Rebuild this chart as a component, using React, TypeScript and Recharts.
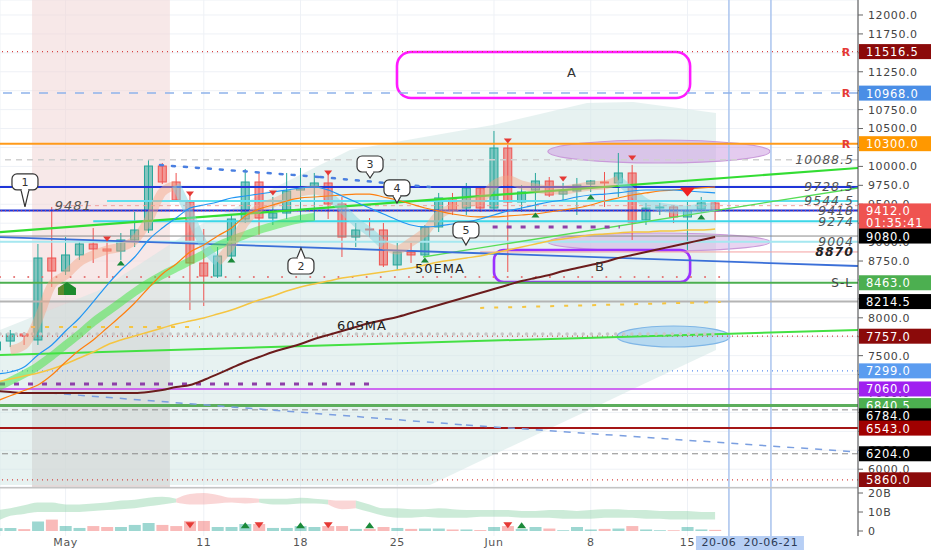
import React from 'react';
import {
  ComposedChart, Bar, Line, Area, XAxis, YAxis, CartesianGrid,
  ReferenceLine, ReferenceArea, ReferenceDot, Cell,
} from 'recharts';

// ================= DATA =================
const dayIndex = [-5,-4,-3,-2,-1,0,1,2,3,4,5,6,7,8,9,10,11,12,13,14,15,16,17,18,19,20,21,22,23,24,25,26,27,28,29,30,31,32,33,34,35,36,37,38,39,40,41,42,43,44,45,46,47];
const opens = [7575,7693,7786,7707,8790,8618,8830,8975,8909,8882,9028,9160,10005,9794,9530,8724,8552,8816,9305,9794,9318,9384,9688,9728,9781,9503,9067,9173,9160,8698,8869,8830,9200,9556,9450,9715,9450,10243,9530,9688,9807,9635,9675,9767,9794,9781,9913,9292,9450,9464,9332,9437,9517];
const highs = [7707,7839,7812,8975,9464,9067,9001,9186,9028,9120,9398,10085,10045,9913,9622,9173,8935,9371,9966,9913,9596,9913,9979,9913,9900,9596,9252,9318,9252,8988,8988,9226,9649,9649,9781,9728,10468,10283,9754,9913,9860,9781,9847,9820,9926,10177,10019,9517,9517,9490,9530,9596,9556];
const lows = [7495,7614,7641,7641,8407,8565,8764,8724,8526,8764,8935,9120,9767,9530,8103,8156,8526,8790,9252,9094,9226,9305,9279,9292,9305,8803,8935,9067,8671,8632,8724,8803,9133,9358,9358,9398,9424,8605,9398,9424,9596,9530,9358,9662,9464,9596,9028,9226,9358,9252,8896,9384,9265];
const closes = [7680,7786,7760,8790,8618,8830,8975,8909,8882,9028,9160,10005,9794,9556,8724,8552,8816,9305,9794,9318,9384,9675,9728,9781,9503,9067,9160,9160,8698,8869,8830,9200,9583,9424,9715,9450,10243,9530,9662,9807,9622,9675,9754,9807,9781,9913,9265,9450,9464,9332,9411,9517,9412];
const maBlue = [7257,7284,7350,7509,7641,7826,7997,8209,8433,8631,8803,9028,9186,9318,9450,9490,9530,9583,9609,9635,9662,9688,9715,9728,9688,9609,9530,9450,9371,9292,9226,9200,9213,9239,9265,9305,9358,9411,9450,9490,9530,9556,9596,9622,9635,9649,9675,9688,9688,9688,9675,9662,9649];
const maOrange = [6900,6970,7040,7112,7244,7416,7575,7707,7865,8024,8196,8394,8579,8711,8869,8962,9081,9186,9345,9437,9490,9543,9583,9596,9609,9622,9635,9635,9596,9556,9503,9450,9411,9371,9345,9332,9332,9345,9358,9371,9398,9424,9450,9490,9543,9583,9622,9649,9675,9688,9701,9715,9728];
const maGold = [7152,7191,7231,7271,7324,7390,7469,7548,7641,7707,7760,7812,7865,7918,7958,7997,8050,8103,8169,8235,8288,8354,8407,8447,8486,8526,8552,8579,8605,8632,8658,8698,8737,8764,8790,8816,8856,8896,8935,8975,9015,9041,9067,9094,9107,9120,9133,9133,9147,9147,9160,9160,9173];
const maBrown = [7033,7020,7007,7007,7007,7007,7007,7007,7007,7007,7007,7020,7046,7086,7112,7178,7257,7337,7416,7482,7548,7601,7654,7720,7773,7826,7879,7931,7971,8011,8063,8116,8169,8222,8275,8328,8380,8433,8486,8526,8565,8618,8658,8698,8737,8790,8830,8869,8909,8949,8988,9028,9067];
const greenRibbon = [7073,7165,7257,7363,7495,7641,7786,7944,8077,8209,8341,8460,8565,8658,8750,8843,8948,9028,9094,9160,9213,9265,9305,9332,null,null,null,null,null,null,null,null,null,null,null,null,null,null,null,null,null,null,null,null,null,null,null,null,null,null,null,null,null];
const bandUp = [null,7575,7641,7971,8433,8565,8737,8830,8896,8935,9028,9292,9662,9754,null,null,8737,8962,9265,9450,9517,9596,9662,9688,9622,null,null,null,8962,8896,9001,9133,9358,9450,9517,9556,9754,9820,9754,9715,9688,9688,9715,9741,9754,9820,null,null,null,null,null,null,null];
const bandDown = [null,null,null,null,null,null,null,null,null,null,null,null,null,9754,9358,8962,8737,null,null,null,null,null,null,null,9622,9450,9265,9133,8962,null,null,null,null,null,null,null,null,null,null,null,null,null,null,null,null,9820,9662,9517,9464,9437,9424,9450,9464];
const volumes = [1.5,1.6,1.0,5.0,6.0,2.6,1.6,2.6,2.1,2.1,3.2,4.2,3.2,2.6,5.3,5.3,2.1,2.1,3.7,3.7,1.6,1.6,2.6,2.1,2.6,2.6,1.1,1.1,2.1,1.6,1.1,1.3,1.3,0.8,0.8,0.5,2.1,2.6,1.1,2.1,1.3,0.4,2.1,0.8,1.1,1.3,2.6,0.8,0.4,0.4,2.1,0.8,0.6];
const volBandLow = [5,8,9,10,10,10,10,10.5,11,11.5,12,13,14,15,14,14,14.5,15,14.5,15,14,14,14.5,14.5,14,11.5,12,10,8,7,7,7.5,7,7,7,7.5,7.5,7.5,7,7,7,6.5,6.5,6.5,7,7,7,6.5,6.5,6,6,6,6];
const volBandHigh = [11,12,13.5,15,15,14,14,14.5,15,16,16.5,17.5,18,17,19.5,20,19,17.5,17.5,17,17,17,17.5,17,16.5,16,16,14,12,12,11.5,11.5,12,11.5,11,11,11,11,10.5,10.5,11,11,10.5,11,11.5,11.5,11,11,10.5,10.5,10.5,10,10];
const volBandColor = ['g','g','g','g','g','g','g','g','g','g','g','g','g','r','r','r','r','r','r','g','g','g','g','g','r','r','g','g','g','g','g','g','g','g','g','g','g','g','g','g','g','g','g','g','g','g','g','g','g','g','g','g','g'];

const dateTicks = [0, 10, 17, 24, 31, 38, 45, 48, 51.04];
const dateTickLabels = ['May', '11', '18', '25', 'Jun', '8', '15', '20-06', '20-06-21'];
const priceTicks = [6000,6250,6500,6750,7000,7250,7500,7750,8000,8250,8500,8750,9000,9250,9500,9750,10000,10250,10500,10750,11000,11250,11500,11750,12000];
const volumeTicks = [0, 10, 20];
const volumeTickLabels = ['0', '10B', '20B'];

// regression cloud
const cloudT = [-4.747, 2.49, 9.72, 15.51, 20.58, 26.37, 30.92, 37.73, 41.06, 47.06];
const cloudTop = [7839, 8367, 9226, 9754, 10217, 10402, 10547, 10838, 10851, 10705];
const cloudBottom = [5791, 5791, 5791, 5791, 5791, 5791, 6188, 6769, 7059, 7575];

// horizontal levels
const levelPrices = [11516.5, 10968, 10300, 10088.5, 9728.5, 9544.5, 9481, 9418, 9412, 9274, 9080, 9004, 8870, 8463, 8214.5, 7757, 7299, 7060, 6840.5, 6784, 6543, 6204, 5860];
// axis tags
const tagPrices = [11516.5, 10968, 10300, 9412, 9412, 9080, 8463, 8214.5, 7757, 7299, 7060, 6840.5, 6784, 6543, 6204, 5860];
const tagTexts = ['11516.5', '10968.0', '10300.0', '9412.0', '01:35:41', '9080.0', '8463.0', '8214.5', '7757.0', '7299.0', '7060.0', '6840.5', '6784.0', '6543.0', '6204.0', '5860.0'];
// in-chart level notes
const notePrices = [10088.5, 9728.5, 9544.5, 9418, 9274, 9004, 8870];
const noteTexts = ['10088.5', '9728.5', '9544.5', '9418', '9274', '9004', '8870'];
const resistancePrices = [11516.5, 10968, 10300];
const stopLossPrice = 8463;
const leftNotePrice = 9481;
const leftNoteT = 0.55;

// trend lines [t1, p1, t2, p2]
const trendLines = [
  [-4.747, 9133, 57.34, 9979],
  [-4.747, 7509, 57.34, 7839],
  [25.86, 8803, 57.34, 9715],
  [-4.747, 9067, 57.34, 8684],
  [-1.13, 7007, 28.97, 6584],
  [28.97, 6584, 57.34, 6227],
  [6.83, 10018, 18.41, 9860],
  [18.41, 9860, 26.37, 9728],
  [-4.747, 7125, 22.4, 7125],
  [30.9, 9200, 40.1, 9200],
  [-4.747, 8539, 47.4, 8539],
  [-2.5, 7878, 9.72, 7878],
  [30.0, 8130, 47.4, 8209],
  [-4.747, 7786, 47.4, 7786],
];

// callouts
const calloutTexts = ['1', '2', '3', '4', '5'];
const calloutT = [-2.94, 17.03, 22.03, 23.98, 28.97];
const calloutP = [9464, 8922, 9847, 9517, 8962];

// signal markers
const sellT = [3, 9, 15, 19, 32, 36, 41];
const sellP = [9041, 9635, 9649, 9913, 10336, 9834, 10111];
const bigSellT = 45;
const bigSellP = 9662;
const buyT = [4, 12, 26, 34, 38, 46];
const buyP = [8724, 8764, 8764, 9358, 9596, 9332];
const houseT = 0.1;
const houseP = 8380;
const volSellT = [9, 14, 19, 32];
const volBuyT = [13, 17, 22, 33];
const volMarkerLevel = 3;

// zones
const shadeT = [-2.43, 7.55];
const shadeLowerTop = 8235;
const ellipseZones = [
  [34.9, 50.97, 10045, 10349],
  [34.9, 50.97, 8882, 9120],
  [39.9, 48.07, 7614, 7892],
];
const boxA = [23.98, 45.19, 10904, 11511];
const boxB = [31.0, 45.19, 8473, 8896];
const boxATextAt = [36.64, 11247];
const boxBTextAt = [38.67, 8684];
const emaText = { t: 27.09, p: 8658, text: '50EMA' };
const smaText = { t: 21.45, p: 7905, text: '60SMA' };
const markerLinesT = [48.0, 51.04];

// ================= BUILD =================
const T_MIN = -4.747;
const T_MAX = 57.34;
const P_MIN = 5765;
const P_MAX = 12198;
const V_MIN = -2.63;
const V_MAX = 23.16;
const FONT = 'DejaVu Sans';

const rows = dayIndex.map((t, i) => ({
  t,
  o: opens[i], h: highs[i], l: lows[i], c: closes[i],
  range: [lows[i], highs[i]],
  maBlue: maBlue[i], maOrange: maOrange[i], maGold: maGold[i], maBrown: maBrown[i],
  ribbon: greenRibbon[i], bandUp: bandUp[i], bandDown: bandDown[i],
  vol: volumes[i],
  up: closes[i] >= opens[i],
}));

const cloudRows = cloudT.map((t, i) => ({ t, range: [cloudBottom[i], cloudTop[i]] }));

type Seg = { color: string; pts: { t: number; range: number[] }[] };
const volSegs: Seg[] = [];
dayIndex.forEach((t, i) => {
  const pt = { t, range: [volBandLow[i], volBandHigh[i]] };
  const last = volSegs[volSegs.length - 1];
  if (last && last.color === volBandColor[i]) last.pts.push(pt);
  else {
    if (last) last.pts.push(pt);
    volSegs.push({ color: volBandColor[i], pts: [pt] });
  }
});

// ================= STYLES =================
const LEVEL_STYLE: any[] = [
  { stroke: '#d84343', w: 1.3, dash: '1 4' },
  { stroke: '#8fb2ea', w: 1.5, dash: '9 9' },
  { stroke: '#ff9a1a', w: 2 },
  { stroke: '#d0d0d0', w: 1.5, dash: '6 5' },
  { stroke: '#1f35d8', w: 2 },
  { stroke: '#5fe0ee', w: 2, from: 3.0 },
  { stroke: '#f0a0a0', w: 1, dash: '4 4', from: -0.77 },
  { stroke: '#1f35d8', w: 2 },
  { stroke: '#ef5350', w: 1, dash: '1 3' },
  { stroke: '#3dd7e8', w: 2, from: 2.0 },
  { stroke: '#8a8a8a', w: 1 },
  { stroke: '#a6e8f0', w: 2 },
  { stroke: '#f4a0a0', w: 1, from: 30 },
  { stroke: '#4caf50', w: 2 },
  { stroke: '#b4b4b4', w: 2 },
  { stroke: '#d84343', w: 1.3, dash: '1 4' },
  { stroke: '#5b8def', w: 1.3, dash: '1 4' },
  { stroke: '#c63cf0', w: 1.5 },
  { stroke: '#5cae5c', w: 3 },
  { stroke: '#8a8a8a', w: 1, dash: '6 4' },
  { stroke: '#a51616', w: 2 },
  { stroke: '#8a8a8a', w: 1, dash: '6 4' },
  { stroke: '#d84343', w: 1.3, dash: '1 4' },
];
const TAG_STYLE: any[] = [
  { bg: '#8b0a0a', dy: 0 }, { bg: '#4a8ee6', dy: 0 }, { bg: '#ff9800', dy: 0 },
  { bg: '#ef5350', dy: 0 }, { bg: '#ef5350', dy: 12 }, { bg: '#000', dy: 0 },
  { bg: '#4caf50', dy: 0 }, { bg: '#000', dy: 0 }, { bg: '#8b0a0a', dy: 0 },
  { bg: '#5b9cf0', dy: 0 }, { bg: '#a020f0', dy: 0 }, { bg: '#4caf50', dy: 0 },
  { bg: '#000', dy: 6 }, { bg: '#a00000', dy: 0 }, { bg: '#000', dy: 0 }, { bg: '#8b0a0a', dy: 0 },
];
const TREND_STYLE: any[] = [
  { stroke: '#33dd33', w: 2.2 },
  { stroke: '#44e044', w: 2 },
  { stroke: '#55dd55', w: 1.3 },
  { stroke: '#3a6fd8', w: 1.8 },
  { stroke: '#7b9fe0', w: 1.5, dash: '7 7' },
  { stroke: '#7b9fe0', w: 1.5, dash: '7 7' },
  { stroke: '#4a7fe0', w: 2.5, dash: '3 9', cap: 'round' },
  { stroke: '#4a7fe0', w: 2.5, dash: '3 9', cap: 'round' },
  { stroke: '#8e3fa8', w: 3, dash: '5 9' },
  { stroke: '#8e3fa8', w: 3, dash: '5 9' },
  { stroke: '#e57373', w: 2, dash: '0.1 14', cap: 'round' },
  { stroke: '#f5c542', w: 2, dash: '4 10' },
  { stroke: '#f5c542', w: 2, dash: '4 10' },
  { stroke: '#c8c8c8', w: 3.5, dash: '0.1 8', cap: 'round' },
];
const CALLOUT_STEM = [{ stem: 17, below: false }, { stem: 10, below: true }, { stem: 6, below: false }, { stem: 7, below: false }, { stem: 7, below: false }];
const BODY_W = 8;

// ================= SHAPES =================
function Candle(props: any) {
  const { x, y, width, height, payload } = props;
  if (!payload || !isFinite(y) || !isFinite(height)) return null;
  const { o, h, l, c } = payload;
  const yTop = Math.min(y, y + height);
  const H = Math.abs(height);
  const k = H / Math.max(h - l, 1e-6);
  const py = (p: number) => yTop + (h - p) * k;
  const up = c >= o;
  const stroke = up ? '#26a69a' : '#ef5350';
  const fill = up ? 'rgba(38,166,154,0.55)' : 'rgba(239,83,80,0.55)';
  const cx = x + width / 2;
  const top = py(Math.max(o, c));
  const bot = py(Math.min(o, c));
  return (
    <g>
      <line x1={cx} x2={cx} y1={yTop} y2={yTop + H} stroke={stroke} strokeWidth={1} />
      <rect x={cx - BODY_W / 2} y={top} width={BODY_W} height={Math.max(bot - top, 1)} fill={fill} stroke={stroke} strokeWidth={1} />
    </g>
  );
}

const tagShape = (text: string, bg: string, dy: number) => (p: any) => (
  <g>
    <rect x={p.cx + 1} y={p.cy + dy - 7.5} width={72} height={15} fill={bg} />
    <text x={p.cx + 8} y={p.cy + dy + 4.5} fill="#fff" fontSize={11.5} fontFamily={FONT} letterSpacing={0.7}>{text}</text>
  </g>
);

const noteShape = (text: string, bold: boolean) => (p: any) => (
  <text x={p.cx - 4} y={p.cy + 4.5} textAnchor="end" fill={bold ? '#222' : '#555'} fontSize={12.5}
    fontStyle="italic" fontWeight={bold ? 'bold' : 'normal'} fontFamily={FONT} letterSpacing={1}>{text}</text>
);

const textShape = (text: string, size: number, fill: string, anchor: string = 'middle', italic = false) => (p: any) => (
  <text x={p.cx} y={p.cy + size * 0.36} textAnchor={anchor} fill={fill} fontSize={size} fontFamily={FONT}
    fontStyle={italic ? 'italic' : 'normal'} letterSpacing={1}>{text}</text>
);

const bubbleShape = (text: string, stem: number, below: boolean) => (p: any) => {
  const { cx, cy } = p;
  const w = 26, h = 16;
  const bx = cx - w / 2;
  const by = below ? cy + stem : cy - stem - h;
  const baseY = below ? by : by + h;
  return (
    <g>
      <rect x={bx} y={by} width={w} height={h} rx={5} fill="#fff" stroke="#333" strokeWidth={1.2} />
      <path d={`M${cx - 4},${baseY} L${cx},${cy} L${cx + 4},${baseY}`} fill="#fff" stroke="#333" strokeWidth={1.2} />
      <line x1={cx - 3.2} x2={cx + 3.2} y1={baseY} y2={baseY} stroke="#fff" strokeWidth={2} />
      <text x={cx} y={by + h / 2 + 4} textAnchor="middle" fontSize={11} fill="#333" fontFamily={FONT}>{text}</text>
    </g>
  );
};

const triShape = (down: boolean, color: string, w: number, h: number) => (p: any) => {
  const { cx, cy } = p;
  const d = down
    ? `M${cx - w / 2},${cy - h / 2} L${cx + w / 2},${cy - h / 2} L${cx},${cy + h / 2} Z`
    : `M${cx - w / 2},${cy + h / 2} L${cx + w / 2},${cy + h / 2} L${cx},${cy - h / 2} Z`;
  return <path d={d} fill={color} />;
};

const houseShape = (p: any) => {
  const { cx, cy } = p;
  return (
    <g>
      <path d={`M${cx - 9},${cy + 6} L${cx - 9},${cy - 1} L${cx},${cy - 7} L${cx + 9},${cy - 1} L${cx + 9},${cy + 6} Z`} fill="#1e8a2e" />
      <path d={`M${cx - 9},${cy + 6} L${cx - 9},${cy - 1} L${cx - 3},${cy - 5} L${cx - 3},${cy + 6} Z`} fill="#7a8a2e" opacity={0.7} />
    </g>
  );
};

const ellipseShape = (fill: string, stroke: string) => (p: any) => {
  const { x, y, width, height } = p;
  return <ellipse cx={x + width / 2} cy={y + height / 2} rx={Math.abs(width) / 2} ry={Math.abs(height) / 2} fill={fill} stroke={stroke} strokeWidth={1.2} />;
};

const boxShape = (stroke: string, rx: number) => (p: any) => {
  const { x, y, width, height } = p;
  return <rect x={x} y={Math.min(y, y + height)} width={width} height={Math.abs(height)} rx={rx} fill="none" stroke={stroke} strokeWidth={2.6} />;
};

const DateTick = (p: any) => {
  const { x, y, index } = p;
  const label = dateTickLabels[index];
  const hl = index >= 7;
  const dx = index === 7 ? -10 : 0;
  return <text x={x + dx} y={y + 10} textAnchor="middle" fontSize={11} fill={hl ? '#2b3a55' : '#555'} fontFamily={FONT} letterSpacing={0.6}>{label}</text>;
};

const DateHighlight = (p: any) => {
  const { cx } = p;
  return <rect x={cx - 75} y={49} width={108} height={14} fill="#b7cff5" />;
};

const lineProps = { dot: false, activeDot: false, isAnimationActive: false, type: 'monotone' as const };

// ================= APP =================
export default function App() {
  return (
    <div style={{ position: 'absolute', left: 0, top: 0, width: 932, height: 550, background: '#fff', overflow: 'hidden' }}>
      <div style={{ position: 'absolute', left: 0, top: 0 }}>
        <ComposedChart width={932} height={487} data={rows} margin={{ top: 0, right: 0, bottom: 0, left: 0 }}>
          <CartesianGrid stroke="#eef1f6" strokeWidth={1} />
          <XAxis dataKey="t" type="number" domain={[T_MIN, T_MAX]} allowDataOverflow hide ticks={dateTicks.slice(0, 7)} />
          <YAxis type="number" orientation="right" width={74} domain={[P_MIN, P_MAX]} allowDataOverflow
            ticks={priceTicks} interval={0} tickFormatter={(v: number) => v.toFixed(1)}
            tick={{ fill: '#444', fontSize: 11, fontFamily: FONT, letterSpacing: 0.6 }}
            tickSize={5} tickMargin={5} axisLine={{ stroke: '#444' }} tickLine={{ stroke: '#666' }} />

          <ReferenceArea x1={shadeT[0]} x2={shadeT[1]} y1={P_MIN} y2={P_MAX} fill="#f0d6d6" fillOpacity={0.55} stroke="none" ifOverflow="hidden" />
          <ReferenceArea x1={shadeT[0]} x2={shadeT[1]} y1={P_MIN} y2={shadeLowerTop} fill="#b9b9b9" fillOpacity={0.3} stroke="none" ifOverflow="hidden" />
          <Area data={cloudRows} dataKey="range" type="linear" fill="#cfe6e3" fillOpacity={0.5} stroke="none" isAnimationActive={false} dot={false} activeDot={false} />

          {markerLinesT.map((t, i) => (
            <ReferenceLine key={'ml' + i} x={t} stroke="#aac4ee" strokeWidth={1.5} />
          ))}

          {levelPrices.map((p, i) => {
            const s = LEVEL_STYLE[i];
            if (s.from !== undefined) {
              return <ReferenceLine key={'lv' + i} segment={[{ x: s.from, y: p }, { x: T_MAX, y: p }]} stroke={s.stroke} strokeWidth={s.w} strokeDasharray={s.dash} ifOverflow="hidden" />;
            }
            return <ReferenceLine key={'lv' + i} y={p} stroke={s.stroke} strokeWidth={s.w} strokeDasharray={s.dash} />;
          })}

          {trendLines.map((tl, i) => {
            const s = TREND_STYLE[i];
            return <ReferenceLine key={'tl' + i} segment={[{ x: tl[0], y: tl[1] }, { x: tl[2], y: tl[3] }]} stroke={s.stroke}
              strokeWidth={s.w} strokeDasharray={s.dash} strokeLinecap={s.cap || 'butt'} ifOverflow="hidden" />;
          })}

          <Line dataKey="ribbon" stroke="#3ee63e" strokeWidth={8} strokeOpacity={0.5} {...lineProps} />
          <Line dataKey="bandUp" stroke="#f4a582" strokeWidth={9} strokeOpacity={0.45} {...lineProps} />
          <Line dataKey="bandDown" stroke="#86d6df" strokeWidth={9} strokeOpacity={0.5} {...lineProps} />
          <Line dataKey="maBrown" stroke="#6b1c1c" strokeWidth={2} {...lineProps} />
          <Line dataKey="maGold" stroke="#f5c542" strokeWidth={1.5} {...lineProps} />
          <Line dataKey="maOrange" stroke="#ff7f0e" strokeWidth={1.2} {...lineProps} />
          <Line dataKey="maBlue" stroke="#2196f3" strokeWidth={1.2} {...lineProps} />

          <ReferenceArea x1={ellipseZones[0][0]} x2={ellipseZones[0][1]} y1={ellipseZones[0][2]} y2={ellipseZones[0][3]} shape={ellipseShape('rgba(205,160,225,0.55)', '#c99ad9')} ifOverflow="visible" />
          <ReferenceArea x1={ellipseZones[1][0]} x2={ellipseZones[1][1]} y1={ellipseZones[1][2]} y2={ellipseZones[1][3]} shape={ellipseShape('rgba(205,160,225,0.45)', '#c99ad9')} ifOverflow="visible" />
          <ReferenceArea x1={ellipseZones[2][0]} x2={ellipseZones[2][1]} y1={ellipseZones[2][2]} y2={ellipseZones[2][3]} shape={ellipseShape('rgba(150,200,240,0.6)', '#7fb6e6')} ifOverflow="visible" />

          <Bar dataKey="range" barSize={8} shape={(p: any) => <Candle {...p} />} isAnimationActive={false} />

          <ReferenceArea x1={boxA[0]} x2={boxA[1]} y1={boxA[2]} y2={boxA[3]} shape={boxShape('#ff1aff', 14)} ifOverflow="visible" />
          <ReferenceArea x1={boxB[0]} x2={boxB[1]} y1={boxB[2]} y2={boxB[3]} shape={boxShape('#9b30ff', 10)} ifOverflow="visible" />
          <ReferenceDot x={boxATextAt[0]} y={boxATextAt[1]} r={1} shape={textShape('A', 13, '#333')} ifOverflow="visible" />
          <ReferenceDot x={boxBTextAt[0]} y={boxBTextAt[1]} r={1} shape={textShape('B', 13, '#333')} ifOverflow="visible" />
          <ReferenceDot x={emaText.t} y={emaText.p} r={1} shape={textShape(emaText.text, 13, '#222')} ifOverflow="visible" />
          <ReferenceDot x={smaText.t} y={smaText.p} r={1} shape={textShape(smaText.text, 13, '#222')} ifOverflow="visible" />
          <ReferenceDot x={leftNoteT} y={leftNotePrice} r={1} shape={textShape('9481', 13, '#555', 'middle', true)} ifOverflow="visible" />

          {sellT.map((t, i) => <ReferenceDot key={'s' + i} x={t} y={sellP[i]} r={1} shape={triShape(true, '#e53935', 8, 5)} ifOverflow="visible" />)}
          <ReferenceDot x={bigSellT} y={bigSellP} r={1} shape={triShape(true, '#f02020', 15, 9)} ifOverflow="visible" />
          {buyT.map((t, i) => <ReferenceDot key={'b' + i} x={t} y={buyP[i]} r={1} shape={triShape(false, '#1b8a3a', 8, 5)} ifOverflow="visible" />)}
          <ReferenceDot x={houseT} y={houseP} r={1} shape={houseShape} ifOverflow="visible" />

          {calloutTexts.map((txt, i) => (
            <ReferenceDot key={'c' + i} x={calloutT[i]} y={calloutP[i]} r={1} shape={bubbleShape(txt, CALLOUT_STEM[i].stem, CALLOUT_STEM[i].below)} ifOverflow="visible" />
          ))}

          {notePrices.map((p, i) => (
            <ReferenceDot key={'n' + i} x={T_MAX} y={p} r={1} shape={noteShape(noteTexts[i], noteTexts[i] === '8870')} ifOverflow="visible" />
          ))}
          {resistancePrices.map((p, i) => (
            <ReferenceDot key={'r' + i} x={T_MAX} y={p} r={1} shape={(q: any) => (
              <text x={q.cx - 12} y={q.cy + 4} textAnchor="middle" fill="#e53935" fontWeight="bold" fontSize={11} fontFamily={FONT}>R</text>
            )} ifOverflow="visible" />
          ))}
          <ReferenceDot x={T_MAX} y={stopLossPrice} r={1} shape={(q: any) => (
            <text x={q.cx - 5} y={q.cy + 4.5} textAnchor="end" fill="#444" fontSize={12} fontFamily={FONT} letterSpacing={1}>S-L</text>
          )} ifOverflow="visible" />
        </ComposedChart>
      </div>

      {/* overlay: price-axis tags drawn above the axis ticks */}
      <div style={{ position: 'absolute', left: 0, top: 0, pointerEvents: 'none' }}>
        <ComposedChart width={932} height={487} data={rows} margin={{ top: 0, right: 0, bottom: 0, left: 0 }}>
          <XAxis dataKey="t" type="number" domain={[T_MIN, T_MAX]} allowDataOverflow hide />
          <YAxis type="number" orientation="right" width={74} domain={[P_MIN, P_MAX]} allowDataOverflow
            tick={false} axisLine={false} tickLine={false} />
          {tagPrices.map((p, i) => (
            <ReferenceDot key={'tg' + i} x={T_MAX} y={p} r={1} shape={tagShape(tagTexts[i], TAG_STYLE[i].bg, TAG_STYLE[i].dy)} ifOverflow="visible" />
          ))}
        </ComposedChart>
      </div>

      <div style={{ position: 'absolute', left: 0, top: 487 }}>
        <ComposedChart width={932} height={63} data={rows} margin={{ top: 0, right: 0, bottom: 0, left: 0 }}>
          <CartesianGrid stroke="#eef1f6" horizontal={false} />
          <XAxis dataKey="t" type="number" domain={[T_MIN, T_MAX]} allowDataOverflow ticks={dateTicks} interval={0}
            height={14} tickSize={0} tickMargin={0} axisLine={false} tickLine={false} tick={<DateTick />} />
          <YAxis type="number" orientation="right" width={74} domain={[V_MIN, V_MAX]} allowDataOverflow
            ticks={volumeTicks} interval={0} tickFormatter={(v: number) => volumeTickLabels[volumeTicks.indexOf(v)]}
            tick={{ fill: '#444', fontSize: 11, fontFamily: FONT, letterSpacing: 0.6 }}
            tickSize={5} tickMargin={5} axisLine={{ stroke: '#444' }} tickLine={{ stroke: '#666' }} />
          <ReferenceDot x={markerLinesT[1]} y={V_MIN} r={1} shape={DateHighlight} ifOverflow="visible" />
          {markerLinesT.map((t, i) => (
            <ReferenceLine key={'vml' + i} x={t} stroke="#aac4ee" strokeWidth={1.5} />
          ))}
          <ReferenceLine y={V_MAX} stroke="#c4c4c4" strokeWidth={3} ifOverflow="visible" />
          {volSegs.map((s, i) => (
            <Area key={'vs' + i} data={s.pts} dataKey="range" type="monotone"
              fill={s.color === 'g' ? '#8fd3a8' : '#f4a3a3'} fillOpacity={0.45} stroke="none"
              isAnimationActive={false} dot={false} activeDot={false} />
          ))}
          <Bar dataKey="vol" barSize={12} isAnimationActive={false}>
            {rows.map((r, i) => (
              <Cell key={'vc' + i} fill={r.up ? 'rgba(38,166,154,0.45)' : 'rgba(239,83,80,0.4)'} />
            ))}
          </Bar>
          {volSellT.map((t, i) => <ReferenceDot key={'vs' + i} x={t} y={volMarkerLevel} r={1} shape={triShape(true, '#e53935', 9, 6)} ifOverflow="visible" />)}
          {volBuyT.map((t, i) => <ReferenceDot key={'vb' + i} x={t} y={volMarkerLevel} r={1} shape={triShape(false, '#1b8a3a', 9, 6)} ifOverflow="visible" />)}
        </ComposedChart>
      </div>
    </div>
  );
}
